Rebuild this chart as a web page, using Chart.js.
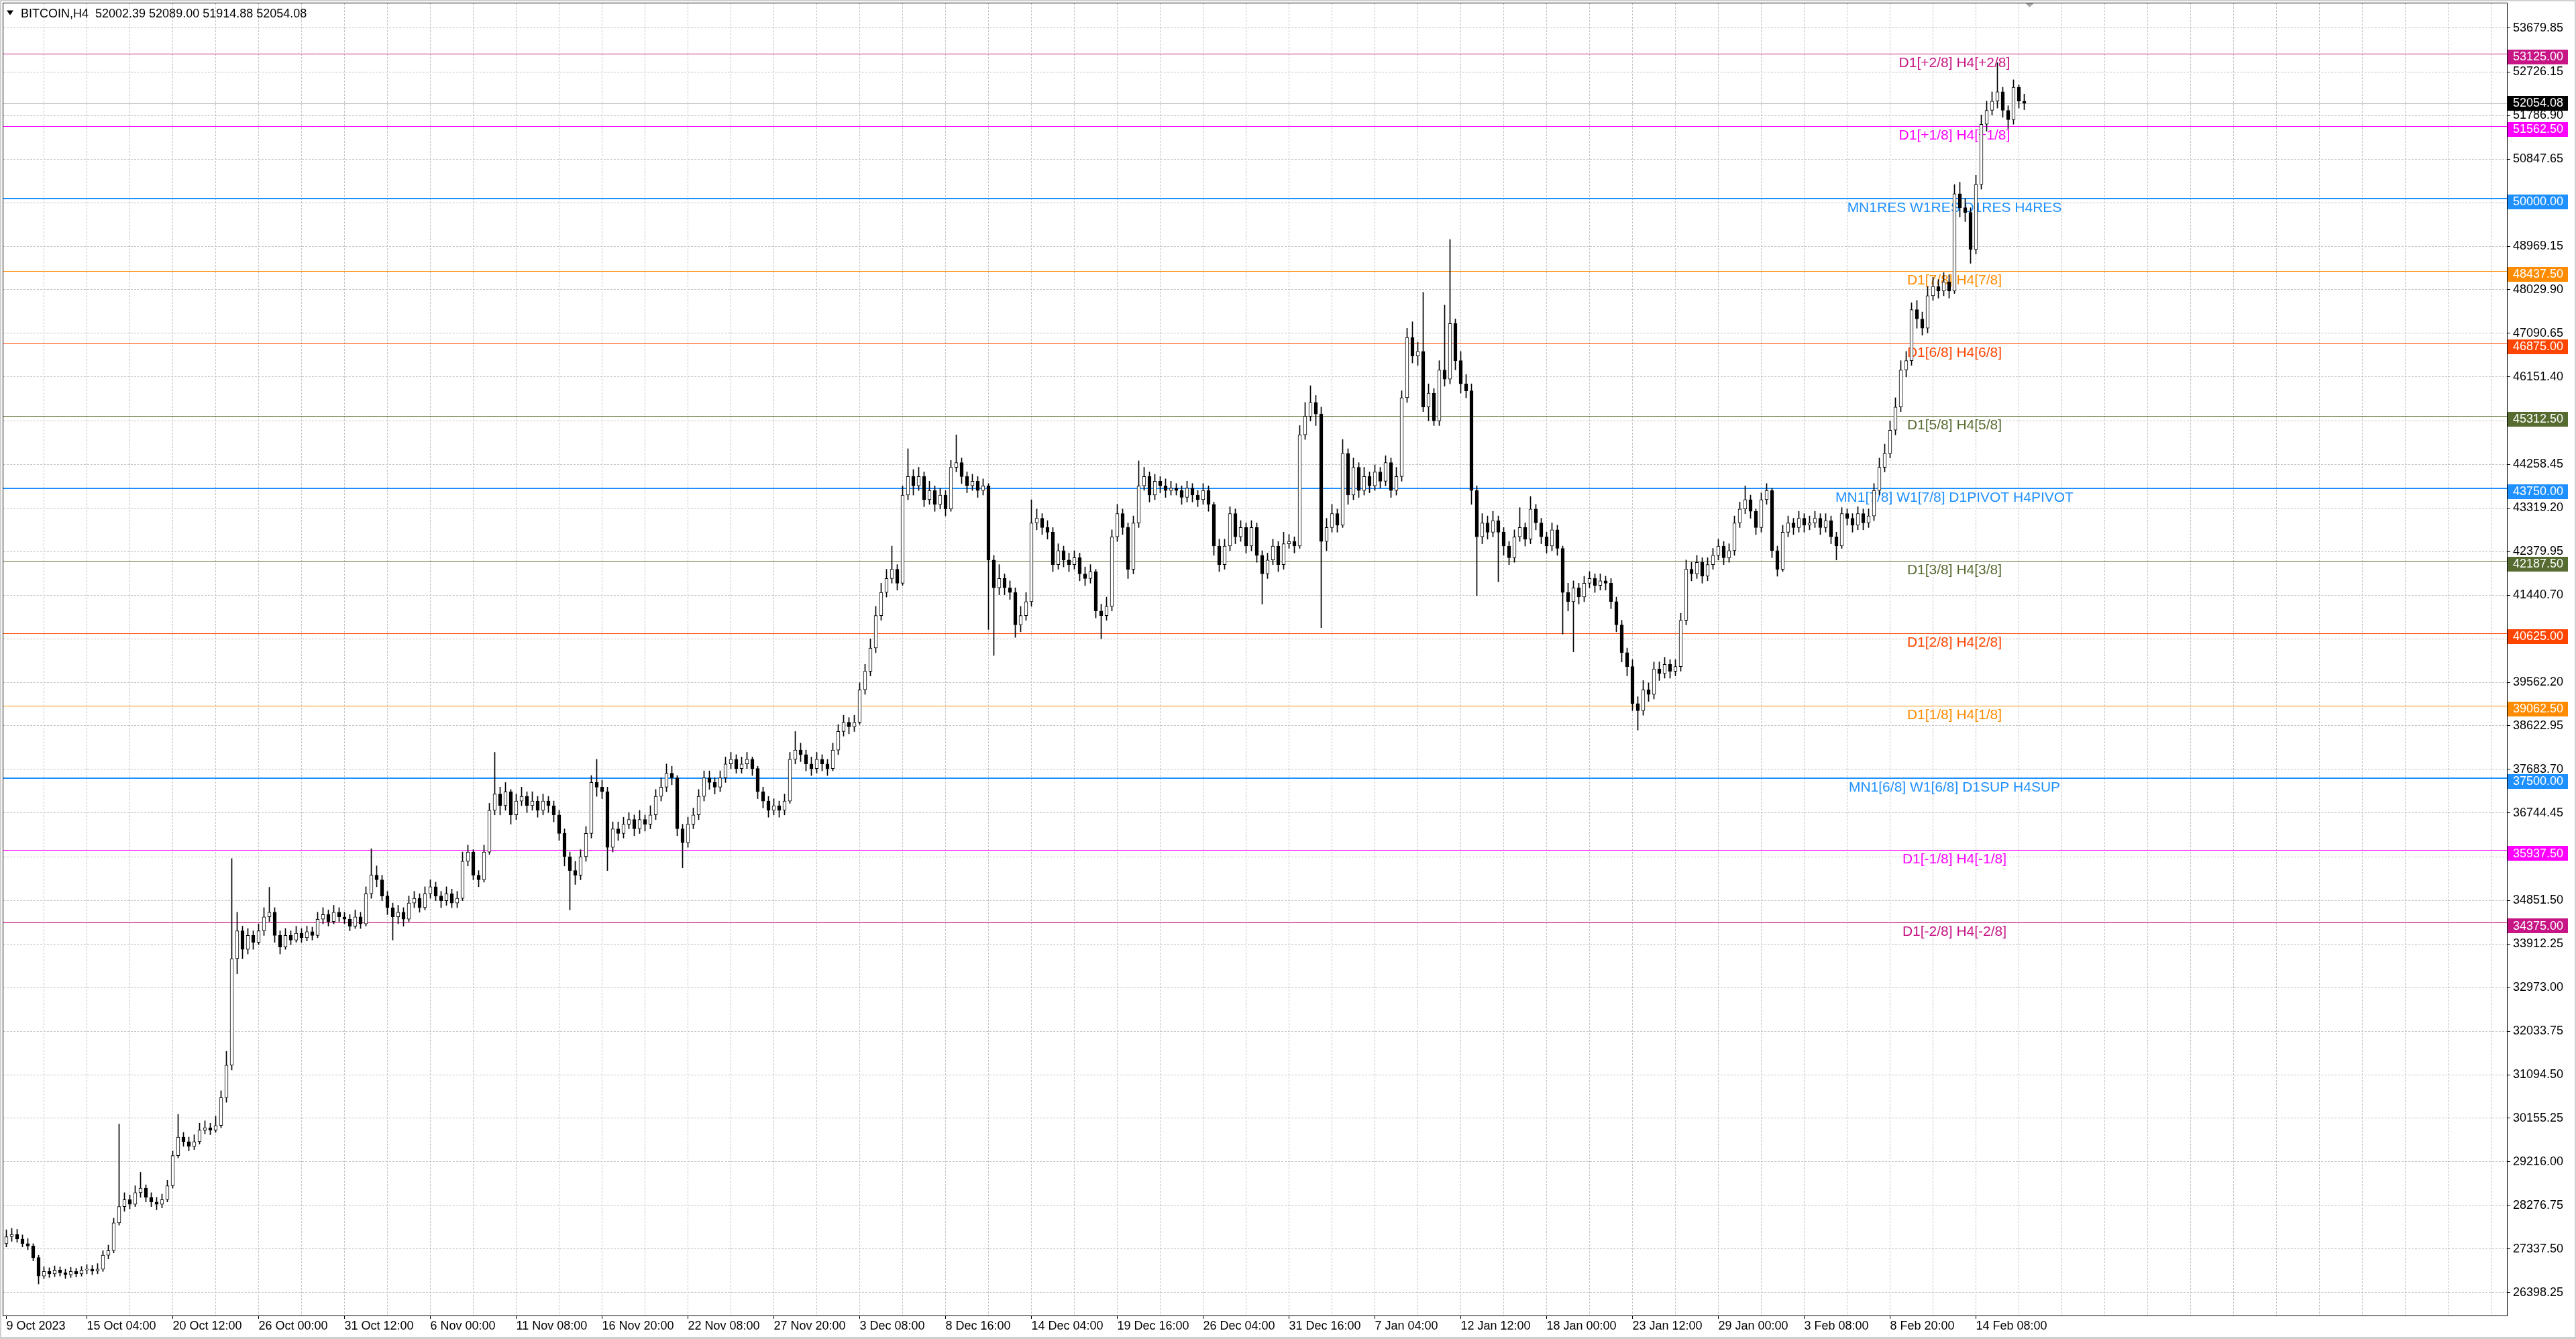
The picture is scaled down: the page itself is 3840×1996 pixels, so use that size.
<!DOCTYPE html>
<html><head><meta charset="utf-8">
<script src="https://cdn.jsdelivr.net/npm/chart.js@4.4.1/dist/chart.umd.min.js"></script>
<style>html,body{margin:0;padding:0;background:#fff;overflow:hidden}canvas{display:block}</style>
</head><body>
<canvas id="c" width="3840" height="1996" style="width:3840px;height:1996px"></canvas>
<script>
const chartTitle = "BITCOIN,H4  52002.39 52089.00 51914.88 52054.08";
const lastPrice = 52054.08;

const openP = [
27450,27600,27650,27550,27450,27400,27150,26750,26850,26800,
26880,26820,26780,26850,26800,26880,26900,26860,26900,27200,
27300,27900,28250,28400,28300,28550,28650,28450,28350,28300,
28400,28700,29350,29750,29650,29550,29650,29900,29950,29900,
30000,30600,31300,33600,34200,33800,34100,33950,34200,34500,
34600,34100,33850,34100,34000,34150,34050,34180,34100,34450,
34550,34400,34600,34500,34450,34300,34500,34350,35000,35400,
35300,34950,34700,34500,34600,34450,34800,34900,34700,35000,
35150,34950,34850,35000,34800,34900,35700,35900,35400,35300,
35900,36800,37150,36900,37200,36700,37000,37100,36900,37000,
36800,37000,36900,36700,36300,35800,35500,35400,35800,36300,
37400,37300,37200,36000,36400,36300,36500,36600,36400,36600,
36500,36700,37100,37300,37600,37500,36400,36100,36500,36700,
37100,37500,37400,37300,37500,37800,37900,37700,37800,37900,
37700,37200,37000,36800,36900,36800,37000,37900,38100,38000,
37800,37700,37900,37800,37700,38100,38500,38700,38600,38700,
39400,39800,40300,41000,41500,41800,42000,41700,43600,44000,
43800,44000,43500,43700,43400,43600,43300,44200,44300,44000,
43800,43900,43700,43800,42200,41600,41800,41600,41500,40800,
41000,41300,43000,43100,42900,42800,42100,42400,42200,42100,
42250,41900,41800,41950,41100,41000,41200,42700,43200,42900,
42000,43000,43800,44000,43600,43900,43800,43700,43750,43700,
43550,43750,43600,43500,43700,43400,42500,42100,42500,43200,
42700,42900,42500,42900,42300,41900,42200,42500,42100,42550,
42600,42500,44900,45300,45600,45350,42600,42900,43200,42950,
44500,43600,44200,43700,44000,43800,44100,43900,44300,43700,
44000,45700,47000,46600,46700,45500,45800,45200,46300,46100,
47300,46500,46000,45850,43700,42700,43000,42800,43050,42800,
42500,42250,42700,42900,42650,43300,43000,42700,42500,42850,
42450,41500,41300,41600,41400,41700,41800,41650,41750,41700,
41300,40800,40200,39900,39100,38950,39400,39300,39850,39750,
39950,39800,39900,40900,42000,41900,42150,41850,42100,42300,
42500,42250,42400,43000,43300,43500,43250,42900,43500,43700,
42400,42000,42800,43000,42900,43100,42950,43000,43100,42900,
43050,42700,42500,43200,43100,42950,43200,43000,43150,43700,
44200,44500,45000,45500,46300,46500,47600,47400,47200,47900,
48100,48000,48200,48000,50100,49800,49700,48900,50300,51600,
51900,52100,52300,51900,51700,52400,52100];

const highP = [
27750,27780,27760,27640,27560,27450,27200,26950,26930,26970,
26950,26900,26940,26920,26960,27000,26980,27020,27300,27420,
28000,30030,28550,28500,28700,28990,28720,28550,28450,28520,
28820,29450,30240,29850,29750,29800,30050,30100,30050,30200,
30750,31600,35760,34600,34300,34250,34200,34350,34700,35140,
34700,34200,34250,34200,34300,34250,34300,34280,34600,34700,
34650,34750,34700,34600,34550,34650,34600,35150,35970,35600,
35400,35050,34800,34750,34700,34950,35050,35000,35150,35300,
35250,35050,35150,35100,35050,35900,36050,35950,35500,36050,
36950,38050,37300,37400,37250,37150,37300,37200,37200,37100,
37150,37100,37000,36800,36400,35900,35700,35950,36450,37550,
37900,37450,37300,36550,36550,36650,36750,36700,36800,36700,
36900,37250,37500,37800,37750,37550,36500,36650,36850,37250,
37650,37650,37500,37650,37950,38050,38000,37950,38050,37950,
37750,37300,37100,37050,37000,37150,38050,38500,38250,38100,
37950,38050,38000,37900,38250,38650,38850,38800,38850,39550,
39950,40500,41200,41700,42000,42500,42100,43800,44600,44150,
44200,44100,43900,43800,43750,43700,44350,44900,44400,44100,
44050,44000,43950,43850,42300,42100,41900,41750,41600,41200,
41500,43500,43300,43200,43050,42900,42550,42500,42350,42400,
42350,42050,42100,42000,41250,41400,42850,43400,43300,43000,
43150,44340,44200,44100,44050,44000,43950,43900,43850,43800,
43900,43850,43700,43850,43800,43450,42650,42650,43350,43300,
43050,43000,43050,43000,42400,42350,42650,42600,42800,42750,
42700,45100,45600,45960,45750,45500,43100,43400,43300,44800,
44600,44400,44300,44200,44100,44250,44200,44450,44400,44200,
45850,47200,47340,46900,47975,46000,45900,46500,47700,49115,
47400,46700,46200,46000,43800,43200,43150,43250,43150,42900,
42600,42850,43330,43000,43570,43400,43100,42800,43000,42950,
42500,41700,41750,41700,41850,41950,41900,41900,41850,41800,
41400,40900,40300,40050,39250,39600,39550,40000,40000,40100,
40050,40050,41050,42200,42150,42300,42250,42250,42450,42650,
42600,42550,43150,43450,43800,43600,43300,43650,43850,43750,
42500,42950,43150,43100,43250,43200,43150,43250,43200,43200,
43150,42800,43330,43300,43200,43350,43300,43300,43850,44400,
44700,45200,45700,46500,46700,47750,47800,47550,48100,48300,
48250,48400,48350,50300,50350,50000,49800,50500,51800,52100,
52300,52930,52400,52000,52560,52450,52250];

const lowP = [
27380,27500,27480,27380,27320,27080,26580,26700,26720,26740,
26750,26700,26720,26730,26750,26800,26780,26800,26850,27120,
27250,27850,28150,28200,28250,28450,28350,28250,28180,28220,
28350,28650,29300,29550,29450,29480,29600,29820,29800,29850,
29950,30500,31200,33270,33600,33700,33800,33900,34100,34400,
33950,33700,33800,33900,33950,33950,33980,34000,34050,34350,
34300,34350,34400,34350,34200,34250,34250,34300,34900,35150,
34850,34550,34000,34350,34300,34400,34700,34600,34650,34900,
34850,34700,34750,34700,34700,34850,35600,35300,35150,35250,
35850,36700,36700,36800,36500,36600,36900,36750,36800,36650,
36700,36750,36550,36150,35600,34650,35200,35300,35700,36200,
37100,37050,35500,35900,36150,36200,36400,36250,36300,36350,
36400,36600,37000,37200,37350,36250,35560,36000,36400,36600,
37000,37250,37150,37200,37400,37700,37600,37600,37700,37550,
37050,36850,36650,36700,36650,36700,36950,37800,37850,37650,
37550,37600,37650,37550,37650,38000,38400,38450,38500,38650,
39300,39700,40200,40900,41400,41700,41550,41650,43500,43600,
43700,43350,43400,43250,43300,43150,43250,44100,43850,43650,
43700,43550,43600,40700,40140,41450,41450,41350,40530,40650,
40900,41200,42850,42750,42650,41950,42000,42050,41950,42000,
41750,41650,41700,40950,40500,40900,41100,42600,42750,41800,
41900,42900,43700,43450,43500,43650,43550,43600,43600,43400,
43450,43450,43350,43400,43250,42300,41950,42000,42400,42550,
42600,42350,42400,42150,41250,41800,42100,41950,42000,42450,
42350,42450,44800,45200,45100,40740,42400,42800,42800,42900,
43400,43500,43550,43600,43650,43700,43750,43800,43550,43600,
43900,45600,46450,46400,45400,45200,45100,45100,45950,46000,
46300,45800,45700,43400,41430,42550,42650,42700,41730,42300,
42100,42150,42600,42500,42550,42850,42550,42350,42400,42300,
40600,41100,40220,41250,41300,41600,41500,41550,41550,41150,
40650,40000,39700,38950,38530,38850,39150,39200,39600,39650,
39650,39700,39800,40800,41750,41800,41700,41750,42000,42200,
42100,42150,42300,42900,43200,43100,42750,42800,43400,42250,
41850,41950,42700,42750,42800,42800,42850,42900,42750,42800,
42550,42200,42450,42950,42800,42850,42850,42900,43050,43600,
44100,44400,44900,45400,46150,46400,47200,47050,47100,47800,
47850,47900,47850,47950,49600,49500,48600,48800,50200,51450,
51800,51950,51750,51500,51600,51950,51914.88];

const closeP = [
27600,27650,27550,27450,27400,27150,26750,26850,26800,26880,
26820,26780,26850,26800,26880,26900,26860,26900,27200,27300,
27900,28250,28400,28300,28550,28650,28450,28350,28300,28400,
28700,29350,29750,29650,29550,29650,29900,29950,29900,30000,
30600,31300,33600,34200,33800,34100,33950,34200,34500,34600,
34100,33850,34100,34000,34150,34050,34180,34100,34450,34550,
34400,34600,34500,34450,34300,34500,34350,35000,35400,35300,
34950,34700,34500,34600,34450,34800,34900,34700,35000,35150,
34950,34850,35000,34800,34900,35700,35900,35400,35300,35900,
36800,37150,36900,37200,36700,37000,37100,36900,37000,36800,
37000,36900,36700,36300,35800,35500,35400,35800,36300,37400,
37300,37200,36000,36400,36300,36500,36600,36400,36600,36500,
36700,37100,37300,37600,37500,36400,36100,36500,36700,37100,
37500,37400,37300,37500,37800,37900,37700,37800,37900,37700,
37200,37000,36800,36900,36800,37000,37900,38100,38000,37800,
37700,37900,37800,37700,38100,38500,38700,38600,38700,39400,
39800,40300,41000,41500,41800,42000,41700,43600,44000,43800,
44000,43500,43700,43400,43600,43300,44200,44300,44000,43800,
43900,43700,43800,42200,41600,41800,41600,41500,40800,41000,
41300,43000,43100,42900,42800,42100,42400,42200,42100,42250,
41900,41800,41950,41100,41000,41200,42700,43200,42900,42000,
43000,43800,44000,43600,43900,43800,43700,43750,43700,43550,
43750,43600,43500,43700,43400,42500,42100,42500,43200,42700,
42900,42500,42900,42300,41900,42200,42500,42100,42550,42600,
42500,44900,45300,45600,45350,42600,42900,43200,42950,44500,
43600,44200,43700,44000,43800,44100,43900,44300,43700,44000,
45700,47000,46600,46700,45500,45800,45200,46300,46100,47300,
46500,46000,45850,43700,42700,43000,42800,43050,42800,42500,
42250,42700,42900,42650,43300,43000,42700,42500,42850,42450,
41500,41300,41600,41400,41700,41800,41650,41750,41700,41300,
40800,40200,39900,39100,38950,39400,39300,39850,39750,39950,
39800,39900,40900,42000,41900,42150,41850,42100,42300,42500,
42250,42400,43000,43300,43500,43250,42900,43500,43700,42400,
42000,42800,43000,42900,43100,42950,43000,43100,42900,43050,
42700,42500,43200,43100,42950,43200,43000,43150,43700,44200,
44500,45000,45500,46300,46500,47600,47400,47200,47900,48100,
48000,48200,48000,50100,49800,49700,48900,50300,51600,51900,
52100,52300,51900,51700,52400,52100,52054.08];

const xTickLabels = ["9 Oct 2023","15 Oct 04:00","20 Oct 12:00","26 Oct 00:00","31 Oct 12:00","6 Nov 00:00",
"11 Nov 08:00","16 Nov 20:00","22 Nov 08:00","27 Nov 20:00","3 Dec 08:00","8 Dec 16:00","14 Dec 04:00",
"19 Dec 16:00","26 Dec 04:00","31 Dec 16:00","7 Jan 04:00","12 Jan 12:00","18 Jan 00:00","23 Jan 12:00",
"29 Jan 00:00","3 Feb 08:00","8 Feb 20:00","14 Feb 08:00"];

const yTickValues = [53679.85,52726.15,51786.90,50847.65,49908.40,48969.15,48029.90,47090.65,46151.40,45205.00,
44258.45,43319.20,42379.95,41440.70,40501.45,39562.20,38622.95,37683.70,36744.45,35798.00,34851.50,
33912.25,32973.00,32033.75,31094.50,30155.25,29216.00,28276.75,27337.50,26398.25];

const levelValues = [53125,51562.5,50000,48437.5,46875,45312.5,43750,42187.5,40625,39062.5,37500,35937.5,34375];
const levelNames = ["D1[+2/8] H4[+2/8]","D1[+1/8] H4[+1/8]","MN1RES W1RES D1RES H4RES","D1[7/8] H4[7/8]",
"D1[6/8] H4[6/8]","D1[5/8] H4[5/8]","MN1[7/8] W1[7/8] D1PIVOT H4PIVOT","D1[3/8] H4[3/8]","D1[2/8] H4[2/8]",
"D1[1/8] H4[1/8]","MN1[6/8] W1[6/8] D1SUP H4SUP","D1[-1/8] H4[-1/8]","D1[-2/8] H4[-2/8]"];
const levelColors = ["#C71585","#FF00FF","#1E90FF","#FF8C00","#FF4500","#556B2F","#1E90FF","#556B2F",
"#FF4500","#FF8C00","#1E90FF","#FF00FF","#C71585"];

// layout constants
const X_MIN = -0.5625;      // chosen so candle centres land on pixel centres
const X_SPAN = 466.5;       // bar slots incl. right-side chart shift
const LABEL_SLOT = 363;     // x position of level captions
const FONT = '"Liberation Sans", Arial, sans-serif';

const slotLabels = {};
xTickLabels.forEach((t, k) => { slotLabels[k === 0 ? 0 : 16 * k - 1] = t; });
const gridSlots = [0];
for (let s = 7; s < X_MIN + X_SPAN; s += 8) gridSlots.push(s);

const wickData = openP.map((o, i) => ({ x: i, y: [Math.min(lowP[i], o, closeP[i]), Math.max(highP[i], o, closeP[i])] }));
const bodyData = openP.map((o, i) => ({ x: i, y: [o, closeP[i]] }));
const bodyColors = openP.map((o, i) => closeP[i] >= o ? '#ffffff' : '#000000');

const mt4Plugin = {
  id: 'mt4',
  beforeDatasetsDraw(chart) {
    const { ctx, chartArea: a, scales: { x, y } } = chart;
    ctx.save();
    ctx.beginPath(); ctx.rect(a.left, a.top, a.right - a.left, a.bottom - a.top); ctx.clip();
    const py = Math.round(y.getPixelForValue(lastPrice)) + 0.5;
    ctx.strokeStyle = '#c0c0c0'; ctx.lineWidth = 1;
    ctx.beginPath(); ctx.moveTo(a.left, py); ctx.lineTo(a.right, py); ctx.stroke();
    const lx = x.getPixelForValue(LABEL_SLOT);
    levelValues.forEach((v, i) => {
      const col = levelColors[i];
      const thick = col === '#1E90FF' ? 2 : 1;
      const yy = Math.round(y.getPixelForValue(v)) + (thick === 1 ? 0.5 : 0);
      ctx.strokeStyle = col; ctx.lineWidth = thick;
      ctx.beginPath(); ctx.moveTo(a.left, yy); ctx.lineTo(a.right, yy); ctx.stroke();
      ctx.fillStyle = col; ctx.font = '21px ' + FONT;
      ctx.textAlign = 'center'; ctx.textBaseline = 'alphabetic';
      ctx.fillText(levelNames[i], lx, yy + 19.5);
    });
    ctx.restore();
  },
  afterDraw(chart) {
    const { ctx, chartArea: a, scales: { x, y }, width, height } = chart;
    ctx.save();
    ctx.strokeStyle = '#000'; ctx.lineWidth = 1;
    ctx.strokeRect(a.left - 0.5, a.top - 0.5, a.right - a.left + 1, a.bottom - a.top + 1);
    ctx.font = '18px ' + FONT; ctx.textAlign = 'left'; ctx.textBaseline = 'middle';
    levelValues.forEach((v, i) => {
      const yy = y.getPixelForValue(v);
      ctx.fillStyle = levelColors[i];
      ctx.fillRect(a.right + 1, Math.round(yy - 6), 90, 22);
      ctx.fillStyle = '#fff';
      ctx.fillText(v.toFixed(2), a.right + 9, yy + 5.5);
    });
    const py = y.getPixelForValue(lastPrice);
    ctx.fillStyle = '#000';
    ctx.fillRect(a.right + 1, Math.round(py - 11), 90, 22);
    ctx.fillStyle = '#fff';
    ctx.fillText(lastPrice.toFixed(2), a.right + 9, py + 0.5);
    ctx.fillStyle = '#000';
    ctx.beginPath(); ctx.moveTo(10, 15.5); ctx.lineTo(20, 15.5); ctx.lineTo(15, 22.5); ctx.closePath(); ctx.fill();
    ctx.font = '18px ' + FONT; ctx.textBaseline = 'alphabetic'; ctx.textAlign = 'left';
    ctx.fillText(chartTitle, 31, 26);
    const sx = x.getPixelForValue(377);
    ctx.fillStyle = '#a8a8a8';
    ctx.beginPath(); ctx.moveTo(sx - 6, a.top); ctx.lineTo(sx + 6, a.top); ctx.lineTo(sx, a.top + 6); ctx.closePath(); ctx.fill();
    ctx.fillStyle = '#d0d0d0';
    ctx.fillRect(0, 0, width, 2); ctx.fillRect(0, 0, 2, height);
    ctx.fillRect(width - 2, 0, 2, height); ctx.fillRect(0, height - 3, width, 3);
    ctx.restore();
  }
};

new Chart(document.getElementById('c'), {
  type: 'bar',
  data: {
    datasets: [
      { label: 'wick', data: wickData, backgroundColor: '#000', barThickness: 1, grouped: false, order: 1 },
      { label: 'body', data: bodyData, backgroundColor: bodyColors, borderColor: '#000', borderWidth: 1,
        borderSkipped: false, barThickness: 5, grouped: false, order: 0 }
    ]
  },
  options: {
    responsive: false, animation: false, devicePixelRatio: 1,
    layout: { padding: { left: 5, top: 5, right: 0, bottom: 0 }, autoPadding: false },
    plugins: { legend: { display: false }, tooltip: { enabled: false } },
    scales: {
      x: {
        type: 'linear', min: X_MIN, max: X_MIN + X_SPAN, offset: false,
        afterBuildTicks: s => { s.ticks = gridSlots.map(v => ({ value: v })); },
        afterFit: s => { s.height = 35; s.paddingLeft = 0; s.paddingRight = 0; },
        ticks: { autoSkip: false, maxRotation: 0, minRotation: 0, align: 'start', padding: 0, color: '#000',
          font: { family: 'Liberation Sans', size: 18 }, callback: v => slotLabels[v] || '' },
        grid: { offset: false, lineWidth: 1, tickLength: 5, tickBorderDash: [],
          color: c => (c.tick && c.tick.value === 0) ? 'rgba(0,0,0,0)' : '#c4c4c4',
          tickColor: c => (c.tick && slotLabels[c.tick.value]) ? '#000' : 'rgba(0,0,0,0)' },
        border: { display: false, dash: [3, 2] }
      },
      y: {
        type: 'linear', position: 'right', min: 25900, max: 54209,
        afterBuildTicks: s => { s.ticks = yTickValues.map(v => ({ value: v })); },
        afterFit: s => { s.width = 103; s.paddingTop = 0; s.paddingBottom = 0; },
        ticks: { autoSkip: false, padding: 4, color: '#000', font: { family: 'Liberation Sans', size: 18 },
          callback: v => Number(v).toFixed(2) },
        grid: { color: '#c4c4c4', lineWidth: 1, tickLength: 5, tickColor: '#000', tickBorderDash: [] },
        border: { display: false, dash: [3, 2] }
      }
    }
  },
  plugins: [mt4Plugin]
});
</script>
</body></html>
